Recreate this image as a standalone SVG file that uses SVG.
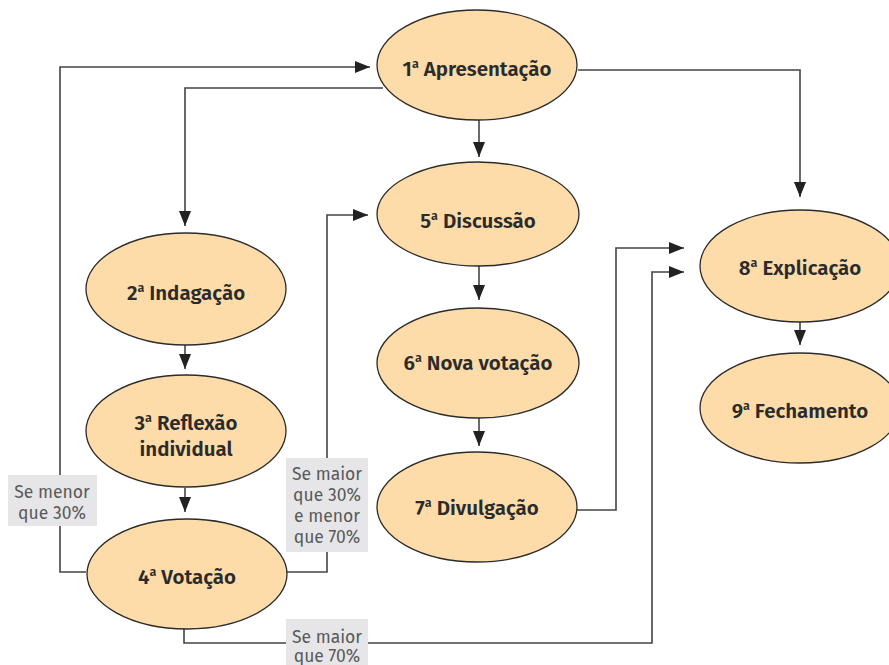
<svg xmlns="http://www.w3.org/2000/svg" width="889" height="665" viewBox="0 0 889 665">
<style>
.node ellipse{fill:#fddcaa;stroke:#2b2b2b;stroke-width:1.3}
.node text{font-family:"Fira Sans","Noto Sans","Open Sans",sans-serif;font-weight:600;font-size:20.5px;fill:#2b2b2b;text-anchor:middle}
.sup{font-size:12.5px}
.conn path{fill:none;stroke:#444;stroke-width:1.6}
.lbl rect{fill:#e6e6e8}
.lbl text{font-family:"Fira Sans","Noto Sans","Open Sans",sans-serif;font-size:17.5px;fill:#5a5a5a;text-anchor:middle}
</style>
<defs>
<marker id="ah" markerUnits="userSpaceOnUse" markerWidth="16" markerHeight="12" refX="15" refY="6" orient="auto">
<path d="M0,0 L15,6 L0,12 z" fill="#222"/>
</marker>
</defs>
<g class="conn">
<path d="M86,572 H60 V67 H370" marker-end="url(#ah)"/>
<path d="M383,88 H185 V226" marker-end="url(#ah)"/>
<path d="M479,120 V157" marker-end="url(#ah)"/>
<path d="M578,70 H800 V197" marker-end="url(#ah)"/>
<path d="M185,345 V369" marker-end="url(#ah)"/>
<path d="M185,488 V512" marker-end="url(#ah)"/>
<path d="M287,572 H327 V215 H368" marker-end="url(#ah)"/>
<path d="M184,628 V643 H652 V272 H684" marker-end="url(#ah)"/>
<path d="M479,265 V300" marker-end="url(#ah)"/>
<path d="M479,418 V446" marker-end="url(#ah)"/>
<path d="M577,510 H616 V248 H684" marker-end="url(#ah)"/>
<path d="M800,322 V345" marker-end="url(#ah)"/>
</g>
<g id="n1" class="node"><ellipse cx="477" cy="65" rx="100" ry="55"/><text x="477" y="76">1<tspan class="sup" dy="-8">a</tspan><tspan dy="8"> Apresentação</tspan></text></g>
<g id="n2" class="node"><ellipse cx="186" cy="289" rx="100" ry="56"/><text x="186" y="300">2<tspan class="sup" dy="-8">a</tspan><tspan dy="8"> Indagação</tspan></text></g>
<g id="n3" class="node"><ellipse cx="186" cy="431" rx="100" ry="56"/><text x="186" y="430">3<tspan class="sup" dy="-8">a</tspan><tspan dy="8"> Reflexão</tspan></text><text x="186" y="456">individual</text></g>
<g id="n4" class="node"><ellipse cx="187" cy="574" rx="100" ry="55"/><text x="187" y="584">4<tspan class="sup" dy="-8">a</tspan><tspan dy="8"> Votação</tspan></text></g>
<g id="n5" class="node"><ellipse cx="478" cy="214" rx="101" ry="52"/><text x="478" y="228">5<tspan class="sup" dy="-8">a</tspan><tspan dy="8"> Discussão</tspan></text></g>
<g id="n6" class="node"><ellipse cx="478" cy="363" rx="101" ry="55"/><text x="478" y="370">6<tspan class="sup" dy="-8">a</tspan><tspan dy="8"> Nova votação</tspan></text></g>
<g id="n7" class="node"><ellipse cx="477" cy="507" rx="100" ry="55"/><text x="477" y="515">7<tspan class="sup" dy="-8">a</tspan><tspan dy="8"> Divulgação</tspan></text></g>
<g id="n8" class="node"><ellipse cx="800" cy="266" rx="100" ry="56"/><text x="800" y="275">8<tspan class="sup" dy="-8">a</tspan><tspan dy="8"> Explicação</tspan></text></g>
<g id="n9" class="node"><ellipse cx="800" cy="408" rx="100" ry="55"/><text x="800" y="418">9<tspan class="sup" dy="-8">a</tspan><tspan dy="8"> Fechamento</tspan></text></g>
<g id="l1" class="lbl"><rect x="8" y="475" width="89" height="51"/><text x="52" y="498">Se menor</text><text x="52" y="519">que 30%</text></g>
<g id="l2" class="lbl"><rect x="286" y="458" width="82" height="94"/><text x="327" y="480">Se maior</text><text x="327" y="501">que 30%</text><text x="327" y="522">e menor</text><text x="327" y="543">que 70%</text></g>
<g id="l3" class="lbl"><rect x="286" y="619" width="82" height="46"/><text x="327" y="643">Se maior</text><text x="327" y="662">que 70%</text></g>
</svg>
